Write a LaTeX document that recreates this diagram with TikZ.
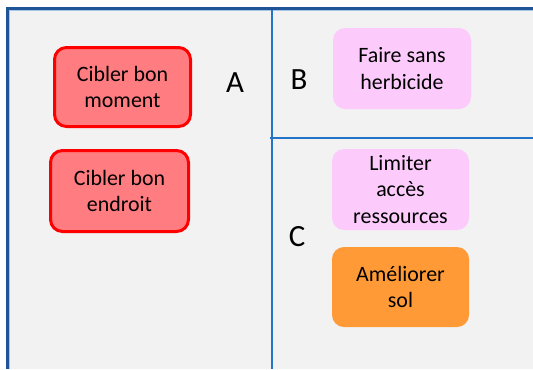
\documentclass[tikz,border=0pt]{standalone}
\usepackage{fontspec}
\setmainfont{Carlito}
\definecolor{framedark}{HTML}{1F5496}
\definecolor{divider}{HTML}{2274C8}
\definecolor{panelbg}{HTML}{F2F2F2}
\definecolor{redfill}{HTML}{FF7C80}
\definecolor{redline}{HTML}{FF0000}
\definecolor{pinkfill}{HTML}{FCCBFC}
\definecolor{orangefill}{HTML}{FF9A36}
\begin{document}
\begin{tikzpicture}[x=1bp,y=-1bp,
  card/.style={rounded corners=12bp, align=center, inner sep=0pt,
    font=\fontsize{22}{26.5}\selectfont},
  redcard/.style={card, fill=redfill, draw=redline, line width=3bp},
  pinkcard/.style={card, fill=pinkfill},
  orangecard/.style={card, fill=orangefill},
  zone/.style={font=\fontsize{31}{31}\selectfont, inner sep=0pt},
  divline/.style={draw=divider, line width=2bp}]
\useasboundingbox (0,0) rectangle (533,369);
% panel background and outer frame
\fill[panelbg] (7,8) rectangle (533,369);
\draw[framedark, line width=3bp] (7.5,369) -- (7.5,8.5) -- (533,8.5);
\draw[divider!40, line width=0.8bp] (9.6,369) -- (9.6,10.6) -- (533,10.6);
% zone dividers
\coordinate (vtop) at (272,10);
\coordinate (vbot) at (272,369);
\coordinate (hleft) at (270,138);
\coordinate (hright) at (533,138);
\path[divline] (vtop) -- (vbot);
\path[divline] (hleft) -- (hright);
% zone A
\node[redcard, minimum width=136bp, minimum height=79bp] (m) at (122.5,87) {Cibler bon\\moment};
\node[redcard, minimum width=138bp, minimum height=81bp] (e) at (119.5,191) {Cibler bon\\endroit};
\node[zone] (A) at (235,83) {A};
% zone B
\node[pinkcard, minimum width=138bp, minimum height=81bp] (h) at (402,68.5) {Faire sans\\herbicide};
\node[zone] (B) at (299,80) {B};
% zone C
\node[pinkcard, minimum width=137bp, minimum height=81bp] (l) at (400.5,189.5) {Limiter\\accès\\ressources};
\node[orangecard, minimum width=137bp, minimum height=80bp] (s) at (400.5,287) {Améliorer\\sol};
\node[zone] (C) at (297,237) {C};
\end{tikzpicture}
\end{document}
